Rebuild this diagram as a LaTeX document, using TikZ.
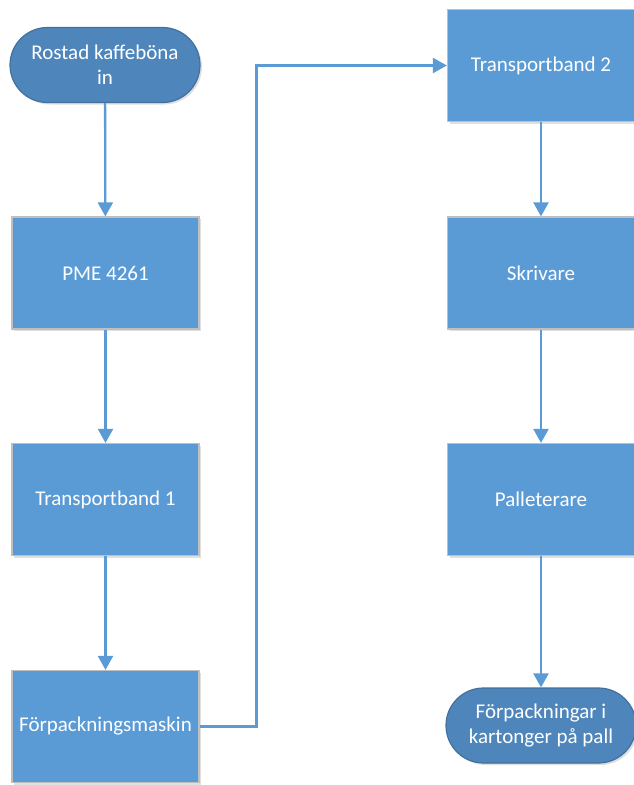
\documentclass[tikz,border=0pt]{standalone}
\usepackage{fontspec}
\setmainfont{Carlito}
\usetikzlibrary{arrows.meta}
\usetikzlibrary{shadows}
\definecolor{boxblue}{HTML}{5B9BD5}
\definecolor{termblue}{HTML}{4E86BC}
\definecolor{termedge}{HTML}{41719C}
\definecolor{boxedge}{HTML}{BFBFBF}

\begin{document}
\begin{tikzpicture}[x=1pt,y=-1pt,
    process/.style={draw=boxedge, line width=1.2pt, fill=boxblue, text=white,
        minimum width=187pt, minimum height=112pt, inner sep=0pt,
        font=\fontsize{21}{25}\selectfont, align=center,
        drop shadow={shadow xshift=2pt, shadow yshift=-2pt, opacity=0.25}},
    terminal/.style={process, draw=termedge, fill=termblue,
        minimum width=190pt, minimum height=75pt, rounded corners=37.5pt},
    flow/.style={draw=boxblue, line width=2.3pt, -{Triangle[width=15pt,length=14pt]}}]
        \useasboundingbox (0,0) rectangle (634,785); % picture size
        \node[terminal] (start) at (105,65) {Rostad kaffeböna\\in};
        \node[process] (pme) at (105.5,273) {PME 4261};
        \node[process] (band1) at (105.5,499.5) {Transportband 1};
        \node[process] (pack) at (105.5,726.5) {Förpackningsmaskin};
        \node[process] (band2) at (541,65.5) {Transportband 2};
        \node[process] (printer) at (541,273) {Skrivare};
        \node[process] (pallet) at (541,499.5) {Palleterare};
        \node[terminal] (stop) at (541,725.5) {Förpackningar i\\kartonger på pall};
        \draw[flow] (start) -- (pme);
        \draw[flow] (pme) -- (band1);
        \draw[flow] (band1) -- (pack);
        \draw[flow] (pack.east) -- ++(57,0) |- (band2.west); % over to the right column
        \draw[flow] (band2) -- (printer);
        \draw[flow] (printer) -- (pallet);
        \draw[flow] (pallet) -- (stop);
\end{tikzpicture}
\end{document}
